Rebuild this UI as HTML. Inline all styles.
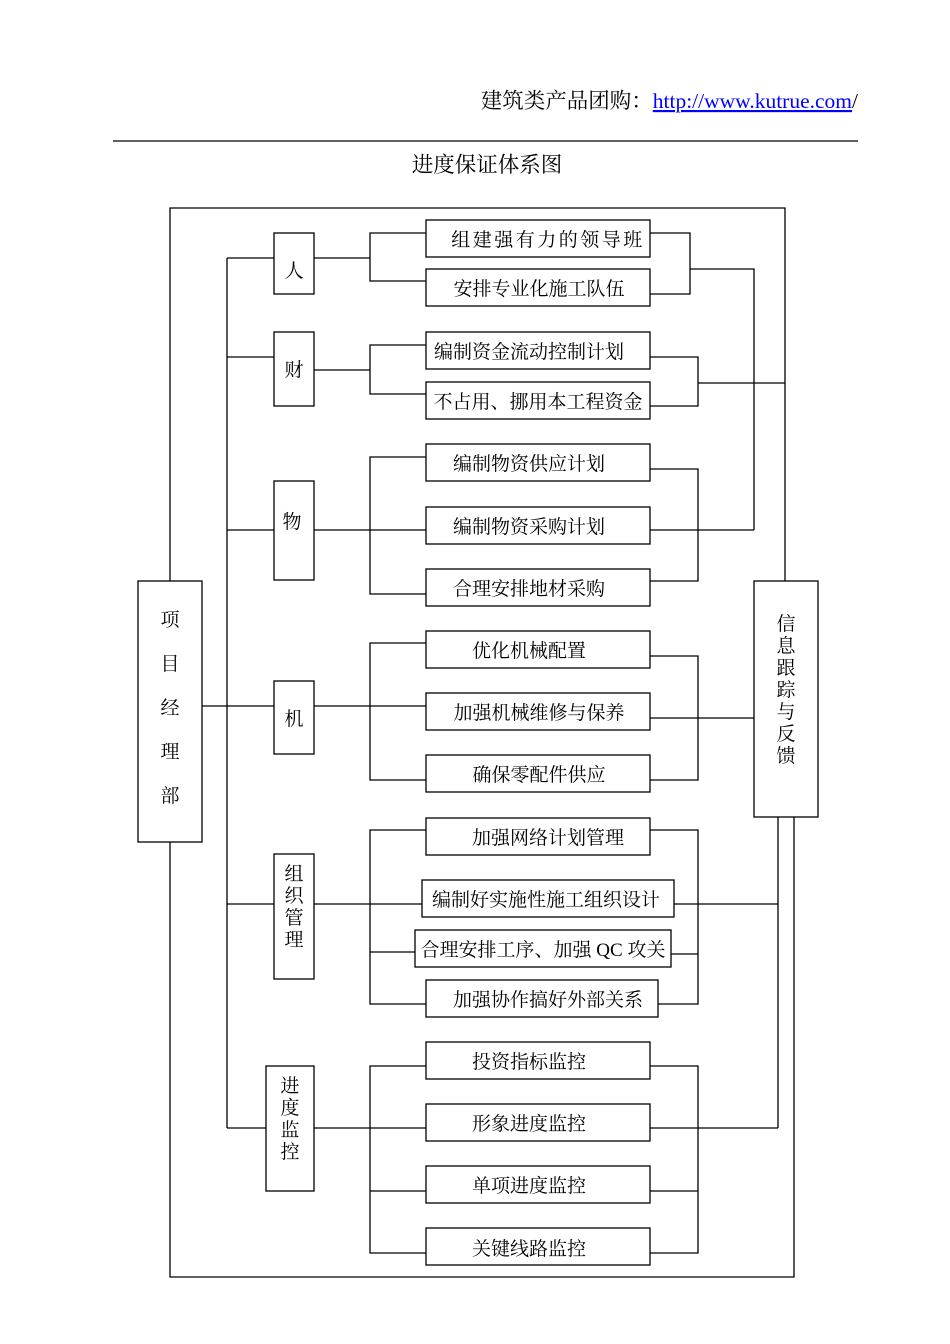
<!DOCTYPE html>
<html><head><meta charset="utf-8"><style>
html,body{margin:0;padding:0;background:#fff;}
svg{display:block;}
text{font-family:"Liberation Serif","Noto Serif CJK SC","Noto Sans CJK SC",serif;fill:#000;}
</style></head><body>
<svg width="950" height="1344" viewBox="0 0 950 1344" xmlns="http://www.w3.org/2000/svg">
<text x="858" y="108" font-size="21.5" text-anchor="end">建筑类产品团购：<tspan fill="#00f" text-decoration="underline">http://www.kutrue.com</tspan>/</text>
<line x1="113" y1="141" x2="858" y2="141" stroke="#000" stroke-width="1.2"/>
<text x="487" y="172" font-size="21.5" text-anchor="middle">进度保证体系图</text>
<g fill="none" stroke="#000" stroke-width="1.3">
<polyline points="170,581 170,208 785,208 785,581"/>
<polyline points="170,842 170,1277 794,1277 794,817"/>
<polyline points="778,817 778,1128"/>
<line x1="227" y1="258" x2="227" y2="1128"/>
<line x1="227" y1="258" x2="274" y2="258"/>
<line x1="227" y1="357" x2="274" y2="357"/>
<line x1="227" y1="530" x2="274" y2="530"/>
<line x1="202" y1="706" x2="274" y2="706"/>
<line x1="227" y1="904" x2="274" y2="904"/>
<line x1="227" y1="1128" x2="266" y2="1128"/>
<rect x="138" y="581" width="64" height="261"/>
<rect x="754" y="581" width="64" height="236"/>
<rect x="274" y="233" width="40" height="61"/>
<rect x="274" y="332" width="40" height="74"/>
<rect x="274" y="481" width="40" height="99"/>
<rect x="274" y="681" width="40" height="73"/>
<rect x="274" y="854" width="40" height="125"/>
<rect x="266" y="1066" width="48" height="125"/>
<line x1="314" y1="258" x2="370" y2="258"/>
<polyline points="426,233 370,233 370,281 426,281"/>
<rect x="426" y="220" width="224" height="37"/>
<rect x="426" y="269" width="224" height="37"/>
<polyline points="650,233 690,233 690,294 650,294"/>
<polyline points="690,269 754,269 754,530"/>
<line x1="314" y1="370" x2="370" y2="370"/>
<polyline points="426,345 370,345 370,394 426,394"/>
<rect x="426" y="332" width="224" height="37"/>
<rect x="426" y="382" width="224" height="37"/>
<polyline points="650,357 698,357 698,406 650,406"/>
<line x1="698" y1="383" x2="785" y2="383"/>
<line x1="314" y1="530" x2="426" y2="530"/>
<polyline points="426,457 370,457 370,594 426,594"/>
<rect x="426" y="444" width="224" height="37"/>
<rect x="426" y="507" width="224" height="37"/>
<rect x="426" y="569" width="224" height="37"/>
<polyline points="650,469 698,469 698,581 650,581"/>
<line x1="650" y1="530" x2="754" y2="530"/>
<line x1="314" y1="706" x2="426" y2="706"/>
<polyline points="426,643 370,643 370,780 426,780"/>
<rect x="426" y="631" width="224" height="37"/>
<rect x="426" y="693" width="224" height="37"/>
<rect x="426" y="755" width="224" height="37"/>
<polyline points="650,656 698,656 698,780 650,780"/>
<line x1="650" y1="718" x2="754" y2="718"/>
<line x1="314" y1="904" x2="422" y2="904"/>
<polyline points="426,830 370,830 370,1004 426,1004"/>
<line x1="370" y1="952" x2="415" y2="952"/>
<rect x="426" y="818" width="224" height="37"/>
<rect x="422" y="880" width="252" height="37"/>
<rect x="415" y="930" width="256" height="37"/>
<rect x="426" y="980" width="232" height="37"/>
<polyline points="650,830 698,830 698,1004 658,1004"/>
<line x1="671" y1="954" x2="698" y2="954"/>
<line x1="674" y1="904" x2="778" y2="904"/>
<line x1="314" y1="1128" x2="426" y2="1128"/>
<polyline points="426,1066 370,1066 370,1253 426,1253"/>
<line x1="370" y1="1191" x2="426" y2="1191"/>
<rect x="426" y="1042" width="224" height="37"/>
<rect x="426" y="1104" width="224" height="37"/>
<rect x="426" y="1166" width="224" height="37"/>
<rect x="426" y="1228" width="224" height="37"/>
<polyline points="650,1066 698,1066 698,1253 650,1253"/>
<line x1="650" y1="1191" x2="698" y2="1191"/>
<line x1="650" y1="1128" x2="778" y2="1128"/>
</g>
<g font-size="19">
<text x="548" y="246" text-anchor="middle" letter-spacing="2.5">组建强有力的领导班</text>
<text x="539" y="295" text-anchor="middle">安排专业化施工队伍</text>
<text x="529" y="358" text-anchor="middle">编制资金流动控制计划</text>
<text x="538" y="408" text-anchor="middle">不占用、挪用本工程资金</text>
<text x="529" y="470" text-anchor="middle">编制物资供应计划</text>
<text x="529" y="533" text-anchor="middle">编制物资采购计划</text>
<text x="529" y="595" text-anchor="middle">合理安排地材采购</text>
<text x="529" y="657" text-anchor="middle">优化机械配置</text>
<text x="539" y="719" text-anchor="middle">加强机械维修与保养</text>
<text x="539" y="781" text-anchor="middle">确保零配件供应</text>
<text x="548" y="844" text-anchor="middle">加强网络计划管理</text>
<text x="546" y="906" text-anchor="middle">编制好实施性施工组织设计</text>
<text x="543" y="956" text-anchor="middle">合理安排工序、加强 QC 攻关</text>
<text x="548" y="1006" text-anchor="middle">加强协作搞好外部关系</text>
<text x="529" y="1068" text-anchor="middle">投资指标监控</text>
<text x="529" y="1130" text-anchor="middle">形象进度监控</text>
<text x="529" y="1192" text-anchor="middle">单项进度监控</text>
<text x="529" y="1255" text-anchor="middle">关键线路监控</text>
<text x="294" y="277" text-anchor="middle">人</text>
<text x="294" y="376" text-anchor="middle">财</text>
<text x="292" y="528" text-anchor="middle">物</text>
<text x="294" y="725" text-anchor="middle">机</text>
<text x="294" y="880" text-anchor="middle">组</text>
<text x="294" y="902" text-anchor="middle">织</text>
<text x="294" y="924" text-anchor="middle">管</text>
<text x="294" y="946" text-anchor="middle">理</text>
<text x="290" y="1092" text-anchor="middle">进</text>
<text x="290" y="1114" text-anchor="middle">度</text>
<text x="290" y="1136" text-anchor="middle">监</text>
<text x="290" y="1158" text-anchor="middle">控</text>
<text x="170" y="626" text-anchor="middle">项</text>
<text x="170" y="670" text-anchor="middle">目</text>
<text x="170" y="714" text-anchor="middle">经</text>
<text x="170" y="758" text-anchor="middle">理</text>
<text x="170" y="802" text-anchor="middle">部</text>
<text x="786" y="630" text-anchor="middle">信</text>
<text x="786" y="652" text-anchor="middle">息</text>
<text x="786" y="674" text-anchor="middle">跟</text>
<text x="786" y="696" text-anchor="middle">踪</text>
<text x="786" y="718" text-anchor="middle">与</text>
<text x="786" y="740" text-anchor="middle">反</text>
<text x="786" y="762" text-anchor="middle">馈</text>
</g>
</svg>
</body></html>
